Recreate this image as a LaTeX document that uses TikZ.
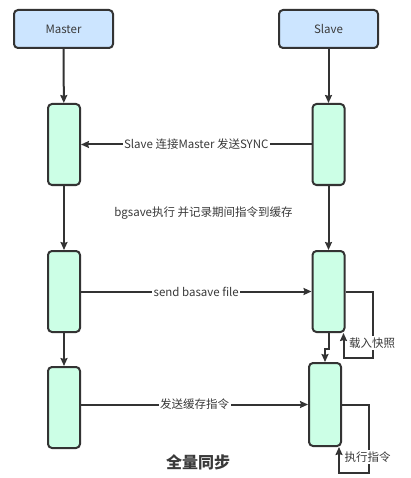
\documentclass[tikz,border=0pt]{standalone}
\usepackage{fontspec}
\setmainfont{Noto Sans CJK SC}
\usetikzlibrary{arrows.meta}
\definecolor{edgegray}{HTML}{333333}
\definecolor{textgray}{HTML}{3A3A3A}
\definecolor{headblue}{HTML}{CCE5FF}
\definecolor{barmint}{HTML}{CCFFE6}

\begin{document}
\begin{tikzpicture}[x=1pt,y=-1pt]
% size of each bar
\def\bw{32}
\def\bh{81}
% node style definition
\tikzstyle{head} = [
	draw=edgegray, fill=headblue, rounded corners=4pt, line width=2pt,
	minimum width=99pt, minimum height=38pt, text=textgray,
	font=\fontsize{11.5}{14}\selectfont ];
\tikzstyle{bar} = [
	draw=edgegray, fill=barmint, rounded corners=4pt, line width=2pt,
	minimum width=\bw pt, minimum height=\bh pt, inner sep=0pt ];
\tikzstyle{link} = [draw=edgegray, line width=2pt,
	-{Stealth[length=8pt,width=7pt,inset=1pt]}];
\tikzstyle{lbl} = [fill=white, text=textgray, inner sep=1.5pt,
	font=\fontsize{11.5}{14}\selectfont];
\fill[white] (0,0) rectangle (410,478);
\useasboundingbox (0,0) rectangle (410,478);
% heads
\node[head] (master) at (63.5,29) { Master };
\node[head] (slave) at (328.5,29) { Slave };
% bars
\node[bar] (mbar1) at (64,144.5) {};
\node[bar] (sbar1) at (328.5,144.5) {};
\node[bar] (mbar2) at (64,291.5) {};
\node[bar] (sbar2) at (328.5,291.5) {};
\node[bar] (mbar3) at (64,407.5) {};
\node[bar, minimum height=83pt] (sbar3) at (325,404.5) {};
% lifelines
\draw[link] (master) -- (mbar1);
\draw[link] (slave) -- (sbar1);
\draw[link] (mbar1) -- (mbar2);
\draw[link] (sbar1) -- (sbar2);
\draw[link] (mbar2) -- (mbar3);
\draw[link] (sbar2.south) -- ++(0,16) -| (sbar3.north);
% messages
\draw[link] (sbar1) -- (mbar1) node[lbl, midway] { Slave 连接Master 发送SYNC };
\draw[link] (mbar2) -- (sbar2) node[lbl, midway] { send basave file };
\draw[link] (mbar3.east |- sbar3) -- (sbar3) node[lbl, midway] { 发送缓存指令 };
\node[lbl] (bgsave) at (203.5,213) { bgsave执行 并记录期间指令到缓存 };
% self loops
\draw[link] (sbar2.east) -- ++(27,0) -- ++(0,66) -| ([xshift=-2pt]sbar2.south east)
	node[lbl, pos=0.8, right=3pt] { 载入快照 };
\draw[link] (sbar3.east) -- ++(27,0) -- ++(0,68) -| ([xshift=-3pt]sbar3.south east)
	node[lbl, pos=0.8, right=3pt] { 执行指令 };
% caption
\node[text=textgray, font=\bfseries\fontsize{16}{19}\selectfont] (title) at (198,462) { 全量同步 };

\end{tikzpicture}
\end{document}
